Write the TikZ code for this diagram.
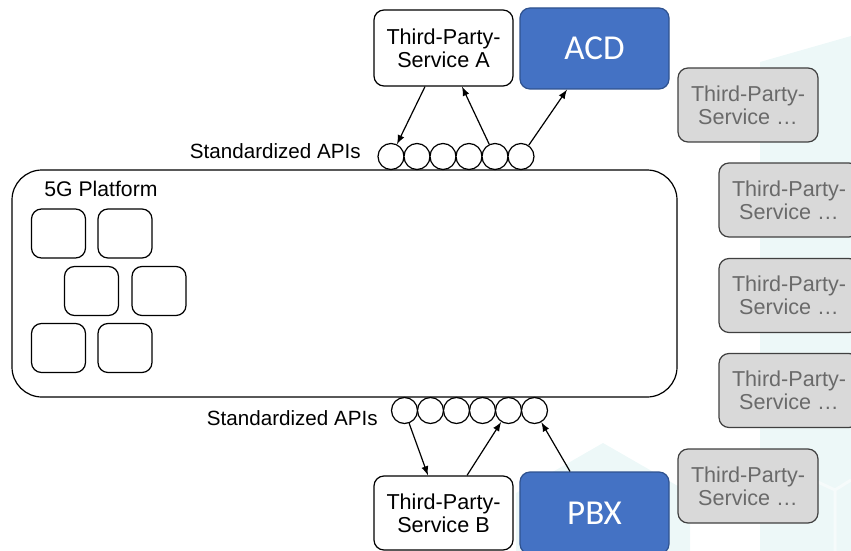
\documentclass[tikz,border=0pt]{standalone}
\usepackage{fontspec}
\setmainfont{Liberation Sans}
\newfontfamily\calfont{Carlito}
\usetikzlibrary{arrows, positioning}

\definecolor{acdblue}{HTML}{4472C4}
\definecolor{acdedge}{HTML}{2F528F}
\definecolor{hexfill}{HTML}{EDF8F8}
\definecolor{hexedge}{HTML}{F6FBFB}
\definecolor{boxgray}{HTML}{D9D9D9}
\definecolor{txtgray}{HTML}{6A6A6A}

\begin{document}
\begin{tikzpicture}
[	x=0.5pt,y=-0.5pt,
	svc/.style={rectangle,draw,rounded corners=5pt,line width=0.6pt,fill=white,minimum width=69.5pt,minimum height=38pt,align=center,inner sep=1pt,font=\fontsize{10.8}{11.5}\selectfont},
	core/.style={rectangle,draw=acdedge,rounded corners=5pt,line width=0.6pt,fill=acdblue,text=white,minimum width=74.5pt,minimum height=40.5pt,font=\calfont\fontsize{17.5}{20}\selectfont},
	ext/.style={svc,fill=boxgray,draw=black!75,text=txtgray,minimum width=70pt,minimum height=37pt},
	api/.style={circle,draw,line width=0.6pt,fill=white,minimum size=13pt,inner sep=0},
	fn/.style={rectangle,draw,rounded corners=5pt,line width=0.6pt,minimum width=27pt,minimum height=24.5pt},
	lbl/.style={font=\fontsize{10.3}{12}\selectfont,inner sep=0}
]
\useasboundingbox (0,0) rectangle (851,551);

% background
\fill[hexfill] (603,443) -- (690,493) -- (690,551) -- (516,551) -- (516,493) -- cycle;
\fill[hexfill] (760,62) -- (851,36) -- (851,551) -- (760,551) -- cycle;
\draw[hexedge,line width=1.5pt] (760,455) -- (835,490) -- (851,480) (835,490) -- (835,551);

% platform
\node[rectangle,draw,rounded corners=15pt,line width=0.6pt,fill=white,minimum width=332.5pt,minimum height=113.5pt] (plat) at (344.5,283.5) {};
\node[lbl,font=\fontsize{10.6}{12}\selectfont,anchor=west] (platname) at (44,189) {5G Platform};

\node[fn] (f1) at (58.5,233.5) {};
\node[fn] (f2) at (125,233.5) {};
\node[fn] (f3) at (91.5,291) {};
\node[fn] (f4) at (159,291) {};
\node[fn] (f5) at (58.5,348) {};
\node[fn] (f6) at (125,348) {};

% APIs
\foreach \i in {1,...,6} {
	\node[api] (t\i) at (365+26*\i,156.5) {};
	\node[api] (b\i) at (378.5+26*\i,410.5) {};
}
\node[lbl,anchor=east] (apitop) at (361,151) {Standardized APIs};
\node[lbl,anchor=east] (apibot) at (378,418) {Standardized APIs};

% services
\node[svc] (sa) at (443.5,48) {Third-Party-\\Service A};
\node[core] (acd) at (594.5,48.5) {ACD};
\node[svc,minimum height=37pt] (sb) at (443.5,513) {Third-Party-\\Service B};
\node[core,minimum height=41pt] (pbx) at (594.5,513) {PBX};

\node[ext] (g1) at (748,105) {Third-Party-\\Service \dots};
\node[ext] (g2) at (789,200) {Third-Party-\\Service \dots};
\node[ext] (g3) at (789,295.5) {Third-Party-\\Service \dots};
\node[ext] (g4) at (789,390.5) {Third-Party-\\Service \dots};
\node[ext] (g5) at (748,486) {Third-Party-\\Service \dots};

\draw[line width=0.6pt,-latex] ([xshift=-9.25pt]sa.south) -- (t1);
\draw[line width=0.6pt,-latex] (t5) -- ([xshift=9.25pt]sa.south);
\draw[line width=0.6pt,-latex] (t6) -- ([xshift=-13.75pt]acd.south);

\draw[line width=0.6pt,-latex] (b1) -- ([xshift=-7.75pt]sb.north);
\draw[line width=0.6pt,-latex] ([xshift=11.75pt]sb.north) -- (b5);
\draw[line width=0.6pt,-latex] ([xshift=-12.25pt]pbx.north) -- (b6);

\end{tikzpicture}
\end{document}
